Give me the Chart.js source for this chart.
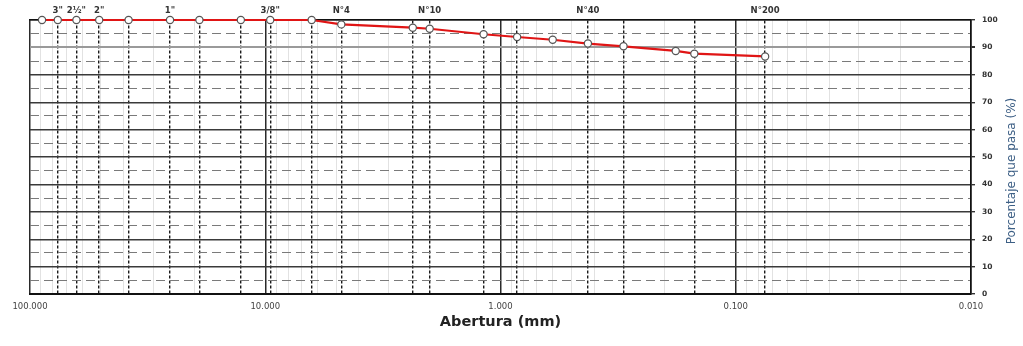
<!DOCTYPE html>
<html><head><meta charset="utf-8">
<script src="https://cdn.jsdelivr.net/npm/chart.js@4/dist/chart.umd.min.js"></script>
<style>html,body{margin:0;padding:0;background:#fff}#wrap{width:1023px;height:346px;position:relative}</style>
</head><body><div id="wrap"><canvas id="c" width="1023" height="346"></canvas></div>
<script>
// Sieve analysis data
const sieveNames = ['3½"','3"','2½"','2"','1½"','1"','¾"','½"','3/8"','¼"','N°4','N°8','N°10','N°16','N°20','N°30','N°40','N°50','N°80','N°100','N°200'];
const openingsMm = [88.9, 76.2, 63.5, 50.8, 38.1, 25.4, 19.05, 12.7, 9.525, 6.35, 4.75, 2.36, 2.0, 1.18, 0.85, 0.6, 0.425, 0.3, 0.18, 0.15, 0.075];
const percentPassing = [100, 100, 100, 100, 100, 100, 100, 100, 100, 100, 98.4, 97.2, 96.8, 94.8, 93.8, 92.8, 91.4, 90.4, 88.7, 87.7, 86.7];

// Guide (dashed) sieve lines and their top labels
const guideSieves = [76.2, 63.5, 50.8, 38.1, 25.4, 19.05, 12.7, 9.525, 6.35, 4.75, 2.36, 2.0, 1.18, 0.85, 0.425, 0.3, 0.15, 0.075];
const guideLabels = ['3"', '2½"', '2"', '', '1"', '', '', '3/8"', '', 'N°4', '', 'N°10', '', '', 'N°40', '', '', 'N°200'];

// Bottom axis ticks
const decadeTicks = [100, 10, 1, 0.1, 0.01];
const decadeLabels = ['100.000', '10.000', '1.000', '0.100', '0.010'];
const minorMultipliers = [2, 3, 4, 5, 6, 7, 8, 9];

// Y axis
const yMin = 0, yMax = 100, yStep = 5, yLabelStep = 10;
const xTitle = 'Abertura (mm)';
const yTitle = 'Porcentaje que pasa (%)';

const FONT = '"DejaVu Sans", "Liberation Sans", Arial, sans-serif';

const bottomTicks = [];
decadeTicks.forEach(d => {
  bottomTicks.push(d);
  if (d < 100) minorMultipliers.forEach(m => bottomTicks.push(d * m));
});

function decadeIndex(v) {
  return decadeTicks.findIndex(d => Math.abs(v - d) / d < 1e-6);
}

const yTitlePlugin = {
  id: 'yTitleLeftRotated',
  afterDraw(chart) {
    const ctx = chart.ctx;
    ctx.save();
    ctx.translate(1012, 171);
    ctx.rotate(-Math.PI / 2);
    ctx.textAlign = 'center';
    ctx.textBaseline = 'middle';
    ctx.font = '12px ' + FONT;
    ctx.fillStyle = '#3d5f85';
    ctx.fillText(yTitle, 0, 0);
    ctx.restore();
  }
};

new Chart(document.getElementById('c'), {
  type: 'line',
  data: {
    datasets: [{
      data: openingsMm.map((x, i) => ({ x: x, y: percentPassing[i] })),
      xAxisID: 'x',
      yAxisID: 'y',
      borderColor: '#e01515',
      borderWidth: 2.2,
      pointRadius: 3.6,
      pointBackgroundColor: '#ffffff',
      pointBorderColor: '#555555',
      pointBorderWidth: 1.2,
      tension: 0,
      clip: false
    }]
  },
  options: {
    responsive: false,
    animation: false,
    devicePixelRatio: 1,
    layout: { padding: { left: 30, right: 0, top: 0, bottom: 0 } },
    plugins: { legend: { display: false }, tooltip: { enabled: false } },
    scales: {
      x: {
        type: 'logarithmic',
        position: 'bottom',
        reverse: true,
        min: 0.01,
        max: 100,
        afterBuildTicks: s => { s.ticks = bottomTicks.map(v => ({ value: v })); },
        afterFit: s => { s.height = 52; },
        ticks: {
          autoSkip: false, maxRotation: 0, minRotation: 0, padding: 8,
          font: { size: 8.5, family: FONT },
          color: '#444',
          callback: v => { const i = decadeIndex(v); return i >= 0 ? decadeLabels[i] : ''; }
        },
        grid: {
          drawTicks: false,
          color: c => (c.tick && decadeIndex(c.tick.value) >= 0) ? '#2a2a2a' : '#e2e2e2',
          lineWidth: c => (c.tick && decadeIndex(c.tick.value) >= 0) ? 1.5 : 1
        },
        border: { display: true, color: '#111', width: 2 },
        title: {
          display: true, text: xTitle, color: '#222',
          font: { size: 14.5, weight: 'bold', family: FONT },
          padding: { top: 0, bottom: 15 }
        }
      },
      x2: {
        type: 'logarithmic',
        position: 'top',
        reverse: true,
        min: 0.01,
        max: 100,
        afterBuildTicks: s => { s.ticks = guideSieves.map(v => ({ value: v })); },
        afterFit: s => { s.height = 20; },
        ticks: {
          autoSkip: false, maxRotation: 0, minRotation: 0, padding: 4,
          font: { size: 8.5, weight: 'bold', family: FONT },
          color: '#333',
          callback: (v, i) => guideLabels[i]
        },
        grid: { drawTicks: false, color: '#1a1a1a', lineWidth: 1.4 },
        border: {
          display: true, color: '#111', width: 1.6,
          dash: c => c.type === 'tick' ? [3, 2] : []
        }
      },
      y: {
        type: 'linear',
        position: 'right',
        min: yMin,
        max: yMax,
        afterFit: s => { s.width = 52; },
        ticks: {
          stepSize: yStep, padding: 7,
          font: { size: 7.5, weight: 'bold', family: FONT },
          color: '#333',
          callback: v => (v % yLabelStep === 0 ? v : '')
        },
        grid: {
          tickLength: 4,
          color: c => {
            if (!c.tick) return '#333';
            const v = c.tick.value;
            if (v % yLabelStep !== 0) return '#7a7a7a';
            if (v === 90) return '#9a9a9a';
            return '#3a3a3a';
          },
          lineWidth: c => {
            if (!c.tick) return 1;
            const v = c.tick.value;
            if (v % yLabelStep !== 0) return 1;
            if (v === 90) return 2;
            return 1.4;
          },
          tickColor: c => (c.tick && c.tick.value % yLabelStep === 0) ? '#333' : 'rgba(0,0,0,0)'
        },
        border: {
          display: true, color: '#111', width: 1.6,
          dash: c => (c.type === 'tick' && c.tick && c.tick.value % yLabelStep !== 0) ? [9, 5] : []
        }
      }
    }
  },
  plugins: [yTitlePlugin]
});
</script>
</body></html>
